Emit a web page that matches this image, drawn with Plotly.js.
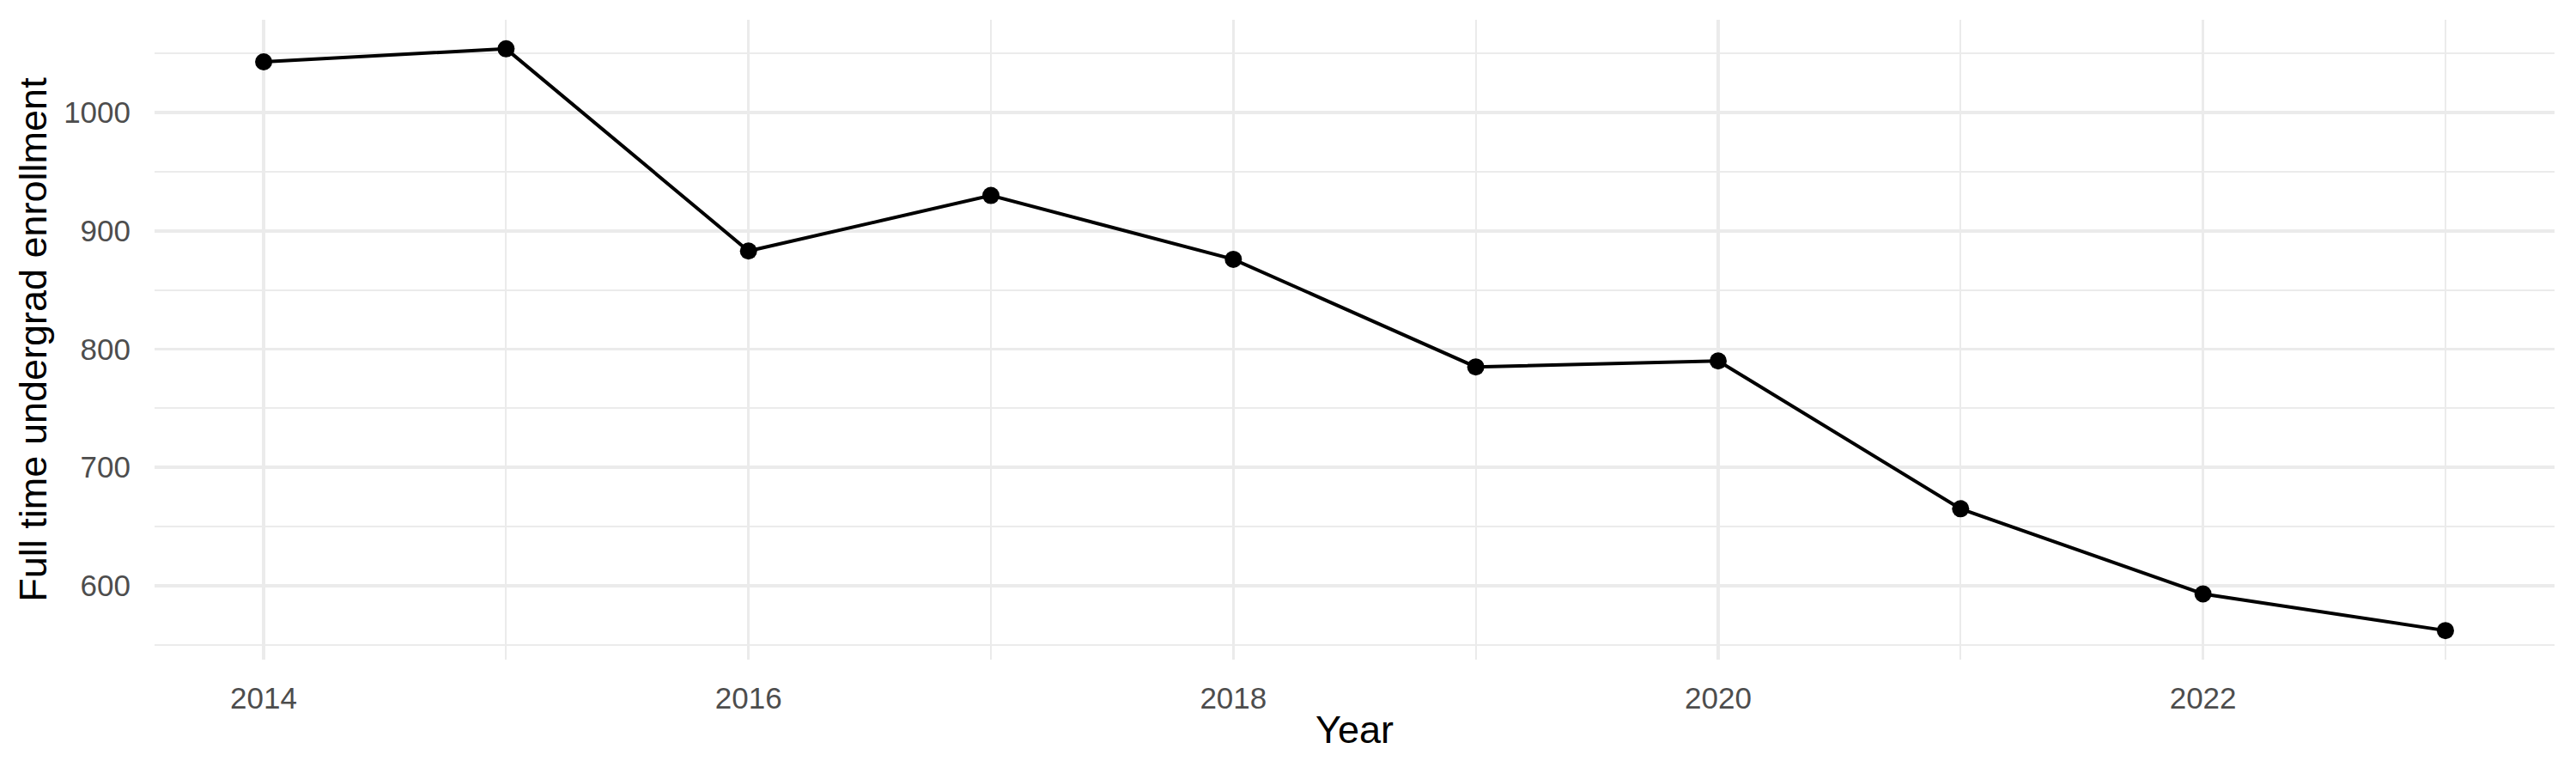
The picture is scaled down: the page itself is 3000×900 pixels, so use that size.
<!DOCTYPE html>
<html>
<head>
<meta charset="utf-8">
<script src="https://cdn.plot.ly/plotly-3.0.1.min.js"></script>
<style>
  html, body { margin: 0; padding: 0; background: #fff; }
  #chart { width: 3000px; height: 900px; }
</style>
</head>
<body>
<div id="chart"></div>
<script>
// values
var years = [2014, 2015, 2016, 2017, 2018, 2019, 2020, 2021, 2022, 2023];
var enrollment = [1043, 1054, 883, 930, 876, 785, 790, 665, 593, 562];

var yearTicks = [2014, 2016, 2018, 2020, 2022];
var enrollTicks = [600, 700, 800, 900, 1000];

var gridMajor = '#EBEBEB';
var tickFont = {family: 'Liberation Sans, Arial, sans-serif', size: 35, color: '#4D4D4D'};
var titleFont = {family: 'Liberation Sans, Arial, sans-serif', size: 45, color: '#000000'};

// ggplot-style 5% padding on each side
var ymin = Math.min.apply(null, enrollment), ymax = Math.max.apply(null, enrollment);
var ypad = (ymax - ymin) * 0.05;
var xpad = (years[years.length - 1] - years[0]) * 0.05;

var trace = {
  x: years,
  y: enrollment,
  type: 'scatter',
  mode: 'lines+markers',
  line: {color: '#000000', width: 4},
  marker: {color: '#000000', size: 20},
  hoverinfo: 'x+y'
};

var layout = {
  width: 3000,
  height: 900,
  paper_bgcolor: '#ffffff',
  plot_bgcolor: '#ffffff',
  showlegend: false,
  margin: {l: 180, r: 25, t: 23, b: 132, pad: 0},
  xaxis: {
    range: [years[0] - xpad, years[years.length - 1] + xpad],
    tickvals: yearTicks,
    ticktext: yearTicks.map(String),
    showgrid: true,
    gridcolor: gridMajor,
    gridwidth: 3.5,
    zeroline: false,
    showline: false,
    ticks: 'outside',
    ticklen: 14,
    tickcolor: 'rgba(0,0,0,0)',
    tickfont: tickFont,
    minor: {dtick: 1, tick0: 2015, showgrid: true, gridcolor: gridMajor, gridwidth: 2},
    title: {text: 'Year', font: titleFont, standoff: 2},
    automargin: false
  },
  yaxis: {
    range: [ymin - ypad, ymax + ypad],
    tickvals: enrollTicks,
    ticktext: enrollTicks.map(String),
    showgrid: true,
    gridcolor: gridMajor,
    gridwidth: 3.5,
    zeroline: false,
    showline: false,
    ticks: 'outside',
    ticklen: 20,
    tickcolor: 'rgba(0,0,0,0)',
    tickfont: tickFont,
    minor: {dtick: 50, tick0: 550, showgrid: true, gridcolor: gridMajor, gridwidth: 2},
    title: {text: 'Full time undergrad enrollment', font: titleFont, standoff: 5},
    automargin: false
  }
};

Plotly.newPlot('chart', [trace], layout, {displayModeBar: false, staticPlot: true});
</script>
</body>
</html>
